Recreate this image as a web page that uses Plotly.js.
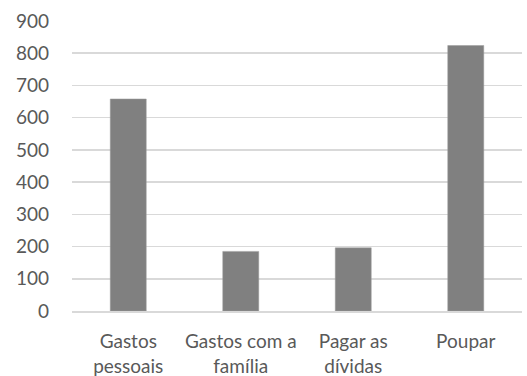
<!DOCTYPE html>
<html><head><meta charset="utf-8">
<script src="https://cdn.plot.ly/plotly-3.0.1.min.js"></script>
<style>html,body{margin:0;padding:0;background:#fff;}#chart{width:527px;height:376px;}</style>
</head><body><div id="chart"></div>
<script>
const categories = ["Gastos<br>pessoais", "Gastos com a<br>família", "Pagar as<br>dívidas", "Poupar"];
const values = [658, 185, 196, 824];
const yTicks = [0, 100, 200, 300, 400, 500, 600, 700, 800, 900];

const trace = {
  type: 'bar', x: categories, y: values,
  marker: {color: '#808080', line: {color: '#9a9a9a', width: 0.5}},
  hoverinfo: 'skip'
};
const fnt = {family: 'Lato, "Open Sans", sans-serif', size: 19, color: '#595959'};
const layout = {
  width: 527, height: 376,
  margin: {l: 72, r: 5, t: 21, b: 65},
  paper_bgcolor: '#fff', plot_bgcolor: '#fff',
  bargap: 0.68,
  showlegend: false,
  xaxis: {type: 'category', tickfont: fnt, showgrid: false, zeroline: false,
          showline: true, linecolor: '#d9d9d9', linewidth: 1.5, ticks: '', ticklabelstandoff: 13},
  yaxis: {range: [0, 900], tickvals: yTicks, ticktext: yTicks.map(String), tickfont: fnt,
          showgrid: true, gridcolor: '#d9d9d9', gridwidth: 1.5, zeroline: false, showline: false,
          ticks: '', ticklabelstandoff: 22}
};
Plotly.newPlot('chart', [trace], layout, {staticPlot: true, displayModeBar: false});
</script></body></html>
